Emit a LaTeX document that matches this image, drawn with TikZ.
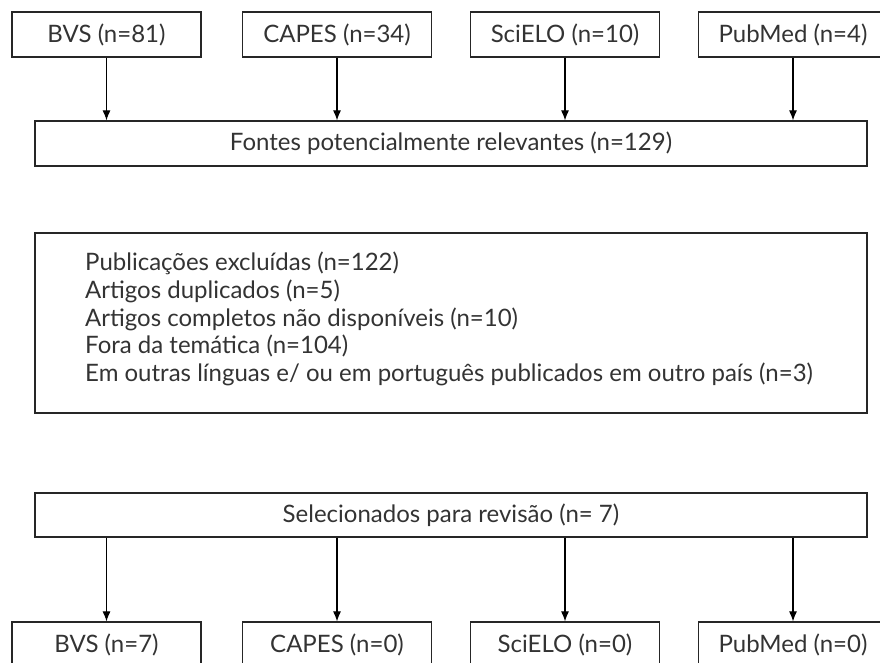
\documentclass[tikz,border=0pt]{standalone}
\usepackage{fontspec}
\setmainfont{Lato}
\usepackage{tikz}
\usetikzlibrary{arrows.meta}

\begin{document}
\begin{tikzpicture}[x=1pt,y=-1pt,
  caixa/.style={draw=black!85,line width=1.2pt,text=black!80,inner sep=0pt,
    minimum width=189pt,minimum height=45pt,font=\fontsize{24}{27.5}\selectfont},
  larga/.style={caixa,minimum width=832pt},
  seta/.style={-{Latex[length=10pt,width=8pt]},line width=1.1pt}]
\useasboundingbox (0,0) rectangle (880,663);
\clip (0,0) rectangle (880,663);

\node[caixa](bvs) at (106.5,34.5) {BVS (n=81)};
\node[caixa](capes) at (337,34.5) {CAPES (n=34)};
\node[caixa](scielo) at (565,34.5) {SciELO (n=10)};
\node[caixa](pubmed) at (793,34.5) {PubMed (n=4)};

\node[larga](fontes) at (451,143.5) {Fontes potencialmente relevantes (n=129)};

\node[larga,minimum height=180pt](excl) at (451,323) {};
\node[anchor=west,align=left,inner sep=0pt,text=black!80,font=\fontsize{24}{27.7}\selectfont](lista) at (85,319)
  {Publicações excluídas (n=122)\\
   Artigos duplicados (n=5)\\
   Artigos completos não disponíveis (n=10)\\
   Fora da temática (n=104)\\
   Em outras línguas e/ ou em português publicados em outro país (n=3)};

\node[larga,minimum height=44pt](sel) at (451,515) {Selecionados para revisão (n= 7)};

\node[caixa](bvs2) at (106.5,644.5) {BVS (n=7)};
\node[caixa](capes2) at (337,644.5) {CAPES (n=0)};
\node[caixa](scielo2) at (565,644.5) {SciELO (n=0)};
\node[caixa](pubmed2) at (793,644.5) {PubMed (n=0)};

\draw[seta] (bvs.south) -- (bvs.south |- fontes.north);
\draw[seta] (capes.south) -- (capes.south |- fontes.north);
\draw[seta] (scielo.south) -- (scielo.south |- fontes.north);
\draw[seta] (pubmed.south) -- (pubmed.south |- fontes.north);

\draw[seta] (sel.south -| bvs2.north) -- (bvs2.north);
\draw[seta] (sel.south -| capes2.north) -- (capes2.north);
\draw[seta] (sel.south -| scielo2.north) -- (scielo2.north);
\draw[seta] (sel.south -| pubmed2.north) -- (pubmed2.north);
\end{tikzpicture}
\end{document}
